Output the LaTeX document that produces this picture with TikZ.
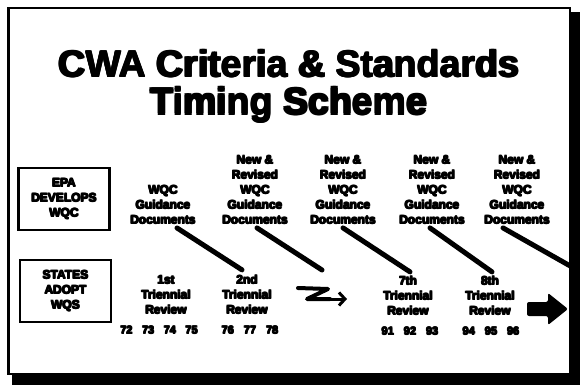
\documentclass[tikz,border=0pt]{standalone}
\usepackage{fontspec}
\usetikzlibrary{arrows.meta}
\newfontfamily\hvsans{Liberation Sans}

% overprinted copies give the letters a heavier stroke
\newdimen\hvd
\hvd=1pt
\newcommand\hv[1]{\leavevmode\hbox{%
  \rlap{\kern\hvd#1}%
  \rlap{\raise\hvd\hbox{#1}}%
  \rlap{\kern\hvd\raise\hvd\hbox{#1}}%
  \rlap{\kern.5\hvd\raise.5\hvd\hbox{#1}}%
  #1\kern\hvd}}
\newcommand\ttlfont{\hvsans\bfseries\fontsize{37.5}{39}\selectfont\hvd=1.6pt\relax}
\newcommand\lblfont{\hvsans\bfseries\fontsize{12}{15}\selectfont}
\newcommand\yrsfont{\hvsans\bfseries\fontsize{11}{13}\selectfont}

\tikzset{
  ttl/.style={font=\ttlfont, inner sep=0pt, anchor=base},
  lbl/.style={font=\lblfont, align=center, inner sep=0pt},
  yrs/.style={font=\yrsfont, inner sep=0pt},
  actbox/.style={lbl, draw, line width=2.5pt, minimum width=91pt, minimum height=62pt},
  link/.style={line width=5pt, line cap=round},
}

\begin{document}
\begin{tikzpicture}[x=1pt, y=-1pt]
  \useasboundingbox (0,0) rectangle (580,385);
  \fill[white] (0,0) rectangle (580,385);

  % title
  \node[ttl] (t1) at (289,78) {\hv{CWA Criteria \& Standards}};
  \node[ttl] (t2) at (289,115) {\hv{Timing Scheme}};

  % row headings
  \node[actbox] (epa) at (64,199) {\hv{EPA}\\\hv{DEVELOPS}\\\hv{WQC}};
  \node[actbox] (states) at (65.5,291) {\hv{STATES}\\\hv{ADOPT}\\\hv{WQS}};

  % guidance documents
  \node[lbl] (d1) at (163,205) {\hv{WQC}\\\hv{Guidance}\\\hv{Documents}};
  \node[lbl] (d2) at (255,190) {\hv{New \&}\\\hv{Revised}\\\hv{WQC}\\\hv{Guidance}\\\hv{Documents}};
  \node[lbl] (d3) at (343,190) {\hv{New \&}\\\hv{Revised}\\\hv{WQC}\\\hv{Guidance}\\\hv{Documents}};
  \node[lbl] (d4) at (432,190) {\hv{New \&}\\\hv{Revised}\\\hv{WQC}\\\hv{Guidance}\\\hv{Documents}};
  \node[lbl] (d5) at (517,190) {\hv{New \&}\\\hv{Revised}\\\hv{WQC}\\\hv{Guidance}\\\hv{Documents}};

  % triennial reviews
  \node[lbl] (r1) at (166,295) {\hv{1st}\\\hv{Triennial}\\\hv{Review}};
  \node[lbl] (r2) at (247,295) {\hv{2nd}\\\hv{Triennial}\\\hv{Review}};
  \node[lbl] (r7) at (408,296) {\hv{7th}\\\hv{Triennial}\\\hv{Review}};
  \node[lbl] (r8) at (490,296) {\hv{8th}\\\hv{Triennial}\\\hv{Review}};
  \node[yrs] (y1) at (159,330) {\hv{72}\hspace{8.5pt}\hv{73}\hspace{8.5pt}\hv{74}\hspace{8.5pt}\hv{75}};
  \node[yrs] (y2) at (250,330) {\hv{76}\hspace{9pt}\hv{77}\hspace{9pt}\hv{78}};
  \node[yrs] (y7) at (410,331) {\hv{91}\hspace{9pt}\hv{92}\hspace{9pt}\hv{93}};
  \node[yrs] (y8) at (491,331) {\hv{94}\hspace{9pt}\hv{95}\hspace{9pt}\hv{96}};

  % links from each document set to the following review
  \coordinate (c2) at (322,270);
  \coordinate (c5) at (572,267);
  \draw[link] ([xshift=14pt,yshift=-3pt]d1.south) -- ([xshift=-5pt,yshift=5pt]r2.north);
  \draw[link] ([xshift=2pt,yshift=-3pt]d2.south) -- (c2);
  \draw[link] ([yshift=-3pt]d3.south) -- ([xshift=2pt,yshift=4pt]r7.north);
  \draw[link] ([xshift=-2pt,yshift=-3pt]d4.south) -- ([xshift=2pt,yshift=4pt]r8.north);
  \draw[link] ([xshift=-14pt,yshift=-3pt]d5.south) -- (c5);

  % time-break arrow
  \draw[line width=4pt, line join=round, line cap=round]
    (298,288) -- (328,289) -- (307,299) -- (330,299);
  \draw[line width=3pt, line cap=round, -{Straight Barb[length=6pt,width=13pt,line width=3pt]}]
    (326,299) -- (347,299);

  % continuation arrow
  \fill[rounded corners=2pt]
    (527,302) -- (548,302) -- (548,293) -- (568,309) -- (548,325) -- (548,316) -- (527,316) -- cycle;

  % frame with drop shadow
  \draw[line width=2.5pt] (8.5,8) rectangle (570,374);
  \fill (569,12) rectangle (580,385);
  \fill (12,373) rectangle (580,385);
\end{tikzpicture}
\end{document}
